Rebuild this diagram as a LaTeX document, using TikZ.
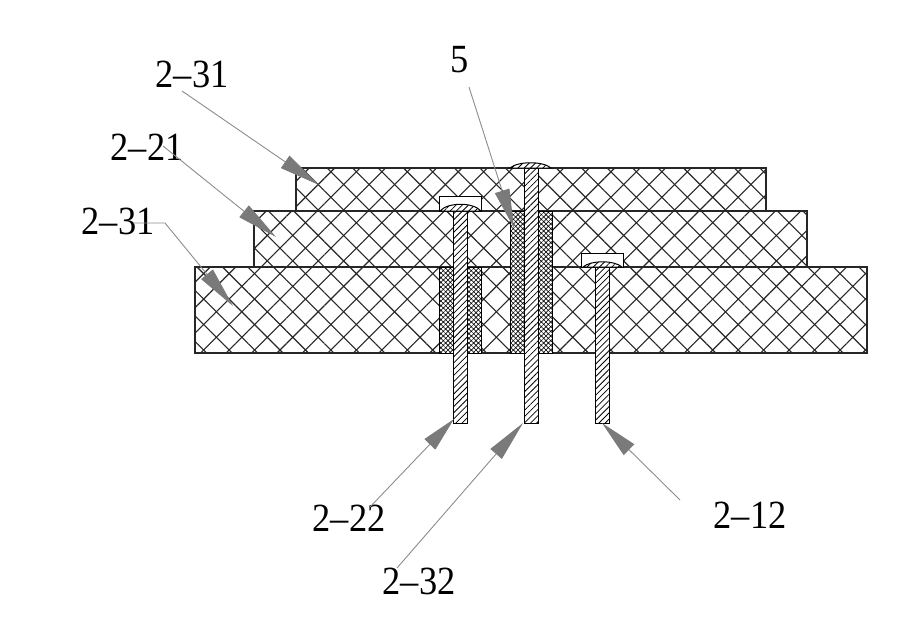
\documentclass[tikz,border=0pt]{standalone}
\usepackage{fontspec}
\usetikzlibrary{arrows.meta, patterns.meta}
\newfontfamily\partfont{Liberation Serif}
\newcommand{\parttext}[1]{\scalebox{0.91}[1]{#1}}
\tikzset{
    plate/.style={draw=black!85, line width=1.1pt, fill=white},
    cross/.style={draw=black!85, line width=0.9pt, pattern={Lines[angle=45,distance=18pt,line width=1.1pt]}, pattern color=black!85},
    crossb/.style={pattern={Lines[angle=-45,distance=18pt,line width=1.1pt]}, pattern color=black!85},
    shank/.style={draw=black, line width=1pt, fill=white, postaction={pattern={Lines[angle=45,distance=4.4pt,line width=0.8pt]}}},
    sleeve/.style={draw=black, line width=1pt, fill=white, postaction={pattern={Lines[angle=45,distance=3.3pt,line width=0.65pt]}}, postaction={pattern={Lines[angle=-45,distance=3.3pt,line width=0.65pt]}}},
    headbox/.style={draw=black, line width=1pt, fill=white},
    pointer/.style={draw=black!45, line width=0.9pt, -{Triangle[length=#1pt,width=15pt,color=black!52,fill=black!52]}},
    pointer/.default=41,
    partlabel/.style={inner sep=0pt, font=\partfont\fontsize{40}{40}\selectfont, text=black},
}
\begin{document}
\begin{tikzpicture}[x=1pt, y=-1pt]
    \useasboundingbox (0,0) rectangle (919,630);
    % plates
    \foreach \xa/\ya/\xb/\yb in {296/168/766/211, 254/211/807/267, 195/267/867/353}{
        \path[plate] (\xa,\ya) rectangle (\xb,\yb);
        \fill[crossb] (\xa,\ya) rectangle (\xb,\yb);
        \path[cross] (\xa,\ya) rectangle (\xb,\yb);
    }
    % sleeves
    \foreach \xa/\ya/\xb in {439/267/453, 467/267/481, 510/211/524, 538/211/552}{
        \path[sleeve] (\xa,\ya) rectangle (\xb,353);
    }
    % bolts
    \path[headbox] (439,211) rectangle (481,196);
    \path[headbox] (581,267) rectangle (623,253);
    \foreach \xa/\ya/\xb/\yb in {453/211/467/423, 524/168/538/423, 595/267/609/423}{
        \path[shank] (\xa,\ya) rectangle (\xb,\yb);
    }
    \foreach \xa/\ya/\xb/\yt in {440/211/481/203, 510/168/551/162, 583/267/622/261}{
        \path[shank] (\xa,\ya) .. controls (\xa+8,\yt-1) and (\xb-8,\yt-1) .. (\xb,\ya) -- cycle;
    }
    % labels
    \node[partlabel] (l231a) at (192,74) {\parttext{2–31}};
    \node[partlabel] (l221) at (147,147) {\parttext{2–21}};
    \node[partlabel] (l231b) at (118,221) {\parttext{2–31}};
    \node[partlabel] (l5) at (460,60) {\parttext{5}};
    \node[partlabel] (l222) at (349,518) {\parttext{2–22}};
    \node[partlabel] (l232) at (419,581) {\parttext{2–32}};
    \node[partlabel] (l212) at (750,515) {\parttext{2–12}};
    % pointers
    \coordinate (s231a) at (182,91);
    \coordinate (t231a) at (319,185);
    \coordinate (s221) at (163,146);
    \coordinate (t221) at (276,237);
    \coordinate (s231b) at (133,223);
    \coordinate (k231b) at (165,223);
    \coordinate (t231b) at (233,306);
    \coordinate (s5) at (469,87);
    \coordinate (t5) at (514,228);
    \coordinate (s222) at (370,507);
    \coordinate (t222) at (454,419);
    \coordinate (s232) at (397,568);
    \coordinate (t232) at (523,423);
    \coordinate (s212) at (680,500);
    \coordinate (t212) at (602,423);
    \draw[pointer] (s231a) -- (t231a);
    \draw[pointer] (s221) -- (t221);
    \draw[pointer] (s231b) -- (k231b) -- (t231b);
    \draw[pointer=39] (s5) -- (t5);
    \draw[pointer=35] (s222) -- (t222);
    \draw[pointer] (s232) -- (t232);
    \draw[pointer=38] (s212) -- (t212);
\end{tikzpicture}
\end{document}
